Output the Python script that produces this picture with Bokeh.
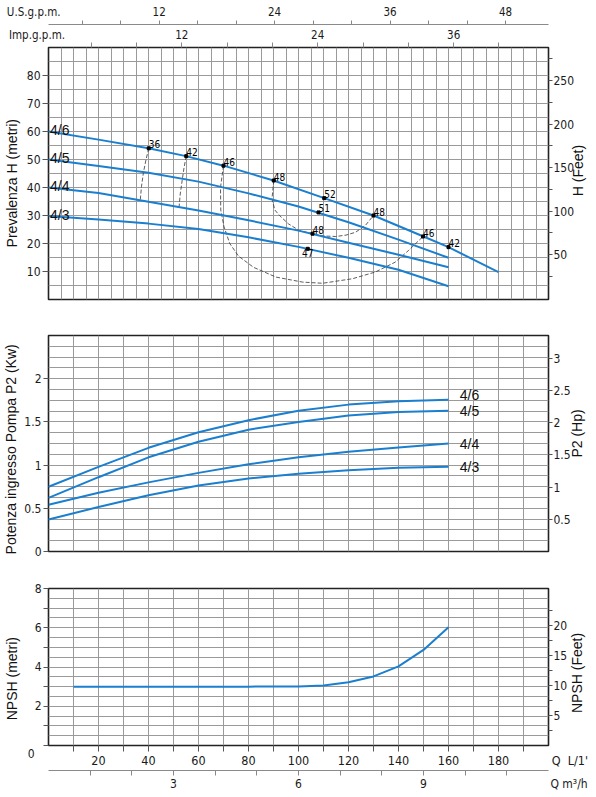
import numpy as np
from bokeh.plotting import figure
from bokeh.models import Range1d, LinearAxis, FixedTicker, Grid
from bokeh.layouts import column
from bokeh.embed import file_html
from bokeh.resources import INLINE
from bokeh.core.properties import value

# ---------------- data ----------------
# Head curves (Q in L/min, H in m)
q_h46 = [0, 20, 40, 55, 70, 90, 110, 130, 150, 160, 180]
h_46 = [60.0, 57.1, 54.0, 51.2, 47.8, 42.5, 36.3, 30.0, 22.5, 18.7, 9.75]
q_head = [0, 20, 40, 60, 80, 100, 120, 140, 160]
h_45 = [50.0, 47.7, 45.3, 42.1, 37.9, 33.2, 27.6, 21.4, 14.9]
h_44 = [40.0, 38.0, 34.9, 31.8, 28.3, 24.6, 20.3, 16.0, 11.5]
h_43 = [29.8, 28.6, 27.1, 25.2, 22.2, 18.8, 14.9, 10.6, 4.75]
models = ["4/6", "4/5", "4/4", "4/3"]

# Iso-efficiency curves
eff36_q = [40.1, 39.0, 38.0, 37.2, 36.7]
eff36_h = [54.0, 49.9, 45.5, 40.4, 35.4]
eff42_q = [55.1, 54.2, 53.5, 52.7, 52.2]
eff42_h = [51.2, 47.0, 42.75, 37.7, 32.75]
eff46_q = [70.0, 68.8, 68.9, 70.2, 72.5, 76.0, 82.0, 91.0, 101.7, 109.6, 121.5, 130.7, 138.6, 144.0, 149.8]
eff46_h = [47.8, 40.0, 32.0, 26.0, 20.0, 15.5, 11.5, 8.0, 6.2, 5.8, 7.4, 9.8, 13.3, 17.5, 22.5]
eff48_q = [90.1, 89.4, 90.5, 92.4, 96.0, 100.4, 105.6, 110.0, 114.9, 119.0, 122.8, 126.7, 130.0]
eff48_h = [42.5, 36.0, 32.0, 30.0, 27.0, 24.6, 23.5, 22.7, 22.5, 23.0, 24.0, 26.4, 30.0]

# Efficiency points (dots with labels)
pt_q = [40.1, 55.1, 70.0, 90.1, 110.3, 108.0, 105.6, 130.0, 149.8, 160.0]
pt_h = [54.0, 51.2, 47.8, 42.5, 36.2, 31.1, 23.5, 30.0, 22.5, 18.7]
pt_lbl = ["36", "42", "46", "48", "52", "51", "48", "48", "46", "42"]
pt47_q = [103.7]
pt47_h = [18.1]
pt47_lbl = ["47"]

# Power curves (kW)
q_pow = [0, 20, 40, 60, 80, 100, 120, 140, 160]
p_46 = [0.75, 0.98, 1.20, 1.38, 1.52, 1.63, 1.70, 1.74, 1.755]
p_45 = [0.62, 0.86, 1.09, 1.27, 1.41, 1.50, 1.575, 1.615, 1.63]
p_44 = [0.54, 0.68, 0.80, 0.91, 1.01, 1.09, 1.155, 1.205, 1.25]
p_43 = [0.37, 0.515, 0.65, 0.765, 0.845, 0.90, 0.94, 0.97, 0.98]

# NPSH (m)
q_npsh = [10, 20, 40, 60, 80, 100, 110, 120, 130, 140, 150, 160]
npsh = [3.0, 3.0, 3.0, 3.0, 3.0, 3.01, 3.06, 3.22, 3.52, 4.03, 4.87, 6.02]

# Ranges of the secondary scales (U.S. / Imp. gallons per minute over 0-200 L/min)
us_range = (0.5, 52.47)
imp_range = (0.24, 44.37)

# Ticks
h_ticks = [10, 20, 30, 40, 50, 60, 70, 80]
ft_ticks = [50, 100, 150, 200, 250]
ft_minor = [25, 75, 125, 175, 225, 275]
us_ticks = [us_range[0], 12, 24, 36, 48]
us_marks = [4, 8, 12, 16, 20, 24, 28, 32, 36, 40, 44, 48]
imp_ticks = [imp_range[0], 12, 24, 36]
imp_marks = [4, 8, 12, 16, 20, 24, 28, 32, 36, 40]
kw_ticks = [0, 0.5, 1, 1.5, 2]
hp_ticks = [0.5, 1, 1.5, 2, 2.5, 3]
n_ticks = [0, 2, 4, 6, 8]
n_minor = [1, 3, 5, 7]
nft_ticks = [5, 10, 15, 20]
nft_minor = [2.5, 7.5, 12.5, 17.5, 22.5]
q_ticks = [20, 40, 60, 80, 100, 120, 140, 160, 180, 200]
q_marks = [10, 20, 30, 40, 50, 60, 70, 80, 90, 100, 110, 120, 130, 140, 150, 160, 170, 180, 190]
m3_ticks = [3, 6, 9, 12]
m3_marks = [1, 2, 3, 4, 5, 6, 7, 8, 9, 10, 11]

NB = "\u00a0"
# axis names shown on the axes' own label rows
us_names = {us_range[0]: "U.S.g.p.m." + NB * 9}
imp_names = {imp_range[0]: "Imp.g.p.m." + NB * 7}
q_names = {200: NB * 12 + "Q" + NB * 2 + "L/1'"}
m3_names = {12: NB * 12 + "Q" + NB + "m\u00b3/h"}
n_names = {0: "\n0" + NB * 2}

# right-hand titles: (value on the panel's scale where the text starts, text)
t_head_r = (36.9, "H (Feet)")
t_pow_r = (1.087, "P2 (Hp)")
t_npsh_r = (1.656, "NPSH (Feet)")

# ---------------- style ----------------
BLUE = "#1b7fcf"
GRID = "#9a9a9a"
TICKFONT = "DejaVu Sans Condensed"
TITLEFONT = "Liberation Sans"
FW = 500


def base_fig(fh, ylo, yhi, top, bottom, below=False):
    p = figure(frame_width=FW, frame_height=fh,
               x_range=Range1d(0, 200), y_range=Range1d(ylo, yhi),
               output_backend="svg", toolbar_location=None,
               x_axis_location="below" if below else None,
               min_border_left=48, min_border_right=48,
               min_border_top=top, min_border_bottom=bottom)
    p.xgrid.visible = False
    p.ygrid.visible = False
    p.outline_line_color = "#222222"
    p.outline_line_width = 1.6
    p.background_fill_color = "white"
    p.border_fill_color = "white"
    return p


def style_axis(ax, ticks, minor=None, tick_out=6, standoff=2, size="12px",
               line=None, names=None, marks_only_minor=False):
    ax.ticker = FixedTicker(ticks=ticks, minor_ticks=minor or [])
    ov = {t: f"{t:g}" for t in ticks}
    if names:
        ov.update(names)
    ax.major_label_overrides = ov
    ax.major_tick_out = tick_out
    ax.major_tick_in = 0
    ax.minor_tick_out = tick_out
    ax.minor_tick_in = 0
    ax.major_tick_line_color = None if marks_only_minor else "#555555"
    ax.minor_tick_line_color = "#555555"
    ax.axis_line_color = line
    ax.major_label_standoff = standoff
    ax.major_label_text_font = TICKFONT
    ax.major_label_text_font_size = size
    ax.major_label_text_color = "#1a1a1a"
    ax.axis_label = None


def set_title(ax, text, standoff):
    ax.axis_label = text
    ax.axis_label_text_font = TITLEFONT
    ax.axis_label_text_font_size = "14px"
    ax.axis_label_text_font_style = "normal"
    ax.axis_label_text_color = "#111111"
    ax.axis_label_standoff = standoff


def title_axis(p, side, spec, standoff):
    tick, text = spec
    ax = LinearAxis(ticker=FixedTicker(ticks=[tick]),
                    major_label_overrides={tick: text},
                    major_label_orientation=np.pi / 2,
                    major_tick_out=0, major_tick_in=0,
                    minor_tick_out=0, minor_tick_in=0,
                    axis_line_color=None, major_tick_line_color=None,
                    minor_tick_line_color=None,
                    major_label_standoff=standoff,
                    major_label_text_font=TITLEFONT,
                    major_label_text_font_size="14px",
                    major_label_text_color="#111111")
    p.add_layout(ax, side)


def add_grid(p, xs, ys):
    p.add_layout(Grid(dimension=0, ticker=FixedTicker(ticks=xs),
                      grid_line_color=GRID, grid_line_width=1))
    p.add_layout(Grid(dimension=1, ticker=FixedTicker(ticks=ys),
                      grid_line_color=GRID, grid_line_width=1))


# ================= top panel: head =================
p1 = base_fig(252, 0, 90, 47, 18)
add_grid(p1, list(range(0, 201, 5)), list(range(0, 91, 5)))
style_axis(p1.yaxis[0], h_ticks)
set_title(p1.yaxis[0], "Prevalenza H (metri)" + NB * 5, 4)
p1.extra_y_ranges = {"ft": Range1d(-1.7, 288.2)}
ax_ft = LinearAxis(y_range_name="ft")
style_axis(ax_ft, ft_ticks, ft_minor, tick_out=4, standoff=1)
p1.add_layout(ax_ft, "right")
title_axis(p1, "right", t_head_r, 1)

p1.extra_x_ranges = {"imp": Range1d(*imp_range), "us": Range1d(*us_range)}
ax_imp = LinearAxis(x_range_name="imp")
style_axis(ax_imp, imp_ticks, imp_marks, tick_out=5, standoff=1, size="11.5px",
           names=imp_names, marks_only_minor=True)
ax_imp.minor_tick_line_color = "#888888"
p1.add_layout(ax_imp, "above")
ax_us = LinearAxis(x_range_name="us")
style_axis(ax_us, us_ticks, us_marks, tick_out=4, standoff=2, size="11.5px",
           line="#8a8a8a", names=us_names, marks_only_minor=True)
ax_us.minor_tick_line_color = "#888888"
p1.add_layout(ax_us, "above")

for xs, ys in [(eff36_q, eff36_h), (eff42_q, eff42_h), (eff46_q, eff46_h), (eff48_q, eff48_h)]:
    p1.line(xs, ys, line_color="#333333", line_width=0.8, line_dash="4 2")

heads = [(q_h46, h_46), (q_head, h_45), (q_head, h_44), (q_head, h_43)]
for (xs, ys) in heads:
    p1.line(xs, ys, line_color=BLUE, line_width=2)

p1.scatter(pt_q + pt47_q, pt_h + pt47_h, marker="square", size=3, color="black")
p1.text(x=pt_q, y=pt_h, text=pt_lbl, text_align="left", text_baseline="bottom",
        text_font=value(TICKFONT), text_font_size="10px", text_color="black")
p1.text(x=pt47_q, y=pt47_h, text=pt47_lbl, text_align="center", text_baseline="top",
        text_font=value(TICKFONT), text_font_size="10px", text_color="black")
p1.text(x=[xs[0] + 0.6 for xs, _ in heads], y=[ys[0] + 0.5 for _, ys in heads], text=models,
        text_align="left", text_baseline="alphabetic",
        text_font=value(TITLEFONT), text_font_size="14px", text_color="#111111")

# ================= middle panel: power =================
p2 = base_fig(216, 0, 2.5, 18, 18)
add_grid(p2, list(range(0, 201, 10)), [i * 0.125 for i in range(21)])
style_axis(p2.yaxis[0], kw_ticks, tick_out=5)
set_title(p2.yaxis[0], "Potenza ingresso Pompa P2 (Kw)" + NB * 3, 2)
p2.extra_y_ranges = {"hp": Range1d(0, 2.5 / 0.7457)}
ax_hp = LinearAxis(y_range_name="hp")
style_axis(ax_hp, hp_ticks, tick_out=4, standoff=1)
p2.add_layout(ax_hp, "right")
title_axis(p2, "right", t_pow_r, 4)
powers = [p_46, p_45, p_44, p_43]
for ys in powers:
    p2.line(q_pow, ys, line_color=BLUE, line_width=2)
p2.text(x=[q_pow[-1] + 4.5] * 4, y=[powers[0][-1] + 0.06] + [ys[-1] for ys in powers[1:]],
        text=models, text_align="left", text_baseline="middle",
        text_font=value(TITLEFONT), text_font_size="14px", text_color="#111111")

# ================= bottom panel: NPSH =================
p3 = base_fig(157, 0, 8, 19, 50, below=True)
add_grid(p3, list(range(0, 201, 10)), [i * 0.5 for i in range(17)])
style_axis(p3.yaxis[0], n_ticks, n_minor, tick_out=5, names=n_names)
set_title(p3.yaxis[0], "NPSH (metri)" + NB * 6, 5)
p3.extra_y_ranges = {"nft": Range1d(0, 8 * 3.2808)}
ax_nft = LinearAxis(y_range_name="nft")
style_axis(ax_nft, nft_ticks, nft_minor, tick_out=4, standoff=1)
p3.add_layout(ax_nft, "right")
title_axis(p3, "right", t_npsh_r, 7)
style_axis(p3.xaxis[0], q_ticks, q_marks, tick_out=6, standoff=1, size="12.5px",
           names=q_names, marks_only_minor=True)
p3.extra_x_ranges = {"m3h": Range1d(0, 12)}
ax_m3 = LinearAxis(x_range_name="m3h")
style_axis(ax_m3, m3_ticks, m3_marks, tick_out=5, standoff=1, size="12px",
           line="#8a8a8a", names=m3_names, marks_only_minor=True)
ax_m3.minor_tick_line_color = "#888888"
p3.add_layout(ax_m3, "below")
p3.line(q_npsh, npsh, line_color=BLUE, line_width=2)

layout = column(p1, p2, p3, spacing=0)
open("out.html", "w").write(file_html(layout, INLINE))
